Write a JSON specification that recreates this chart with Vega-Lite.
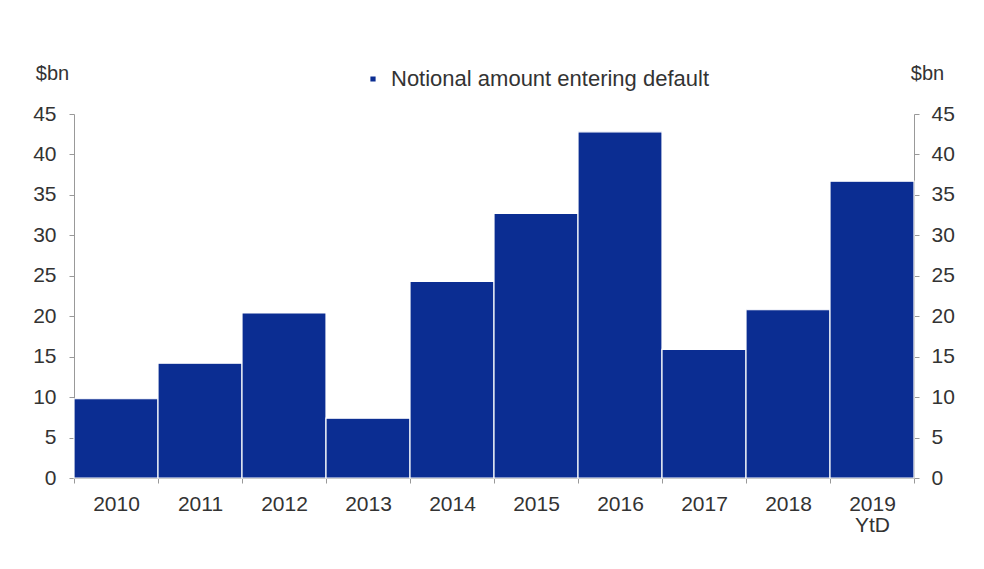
{
  "$schema": "https://vega.github.io/schema/vega-lite/v6.json",
  "width": 840,
  "height": 364,
  "autosize": {"type": "none"},
  "padding": {"left": 74, "top": 114, "right": 70, "bottom": 91},
  "background": "white",
  "config": {
    "view": {"stroke": null},
    "font": "Liberation Sans",
    "axis": {"labelFont": "Liberation Sans", "titleFont": "Liberation Sans", "labelColor": "#333333", "titleColor": "#333333", "labelFontSize": 21, "titleFontSize": 20, "titleFontWeight": "normal", "domainColor": "#999999", "tickColor": "#999999", "grid": false}
  },
  "data": {
    "values": [
      {"year": "2010", "series": "Notional amount entering default", "value": 9.8},
      {"year": "2011", "series": "Notional amount entering default", "value": 14.2},
      {"year": "2012", "series": "Notional amount entering default", "value": 20.4},
      {"year": "2013", "series": "Notional amount entering default", "value": 7.4},
      {"year": "2014", "series": "Notional amount entering default", "value": 24.3},
      {"year": "2015", "series": "Notional amount entering default", "value": 32.7},
      {"year": "2016", "series": "Notional amount entering default", "value": 42.8},
      {"year": "2017", "series": "Notional amount entering default", "value": 15.9},
      {"year": "2018", "series": "Notional amount entering default", "value": 20.8},
      {"year": "2019 YtD", "series": "Notional amount entering default", "value": 36.7}
    ]
  },
  "layer": [
    {
      "mark": {"type": "bar", "stroke": "white", "strokeWidth": 1.2},
      "encoding": {
        "x": {
          "field": "year", "type": "ordinal", "sort": null,
          "scale": {"paddingInner": 0, "paddingOuter": 0},
          "axis": {"title": null, "labelAngle": 0, "tickBand": "extent", "tickSize": 5, "labelPadding": 10,
            "labelExpr": "datum.label == '2019 YtD' ? ['2019', 'YtD'] : datum.label", "labelLineHeight": 21}
        },
        "y": {
          "field": "value", "type": "quantitative",
          "scale": {"domain": [0, 45], "nice": false},
          "axis": {"values": [0,5,10,15,20,25,30,35,40,45], "title": "$bn", "titleAngle": 0, "titleX": -22, "titleY": -41, "titleAlign": "center", "titleBaseline": "middle", "tickSize": 5, "labelPadding": 13}
        },
        "color": {
          "field": "series", "type": "nominal",
          "scale": {"range": ["#0b2d92"]},
          "legend": {"title": null, "orient": "none", "legendX": 288, "legendY": -46, "symbolType": "square", "symbolSize": 45, "labelFontSize": 22, "labelFont": "Liberation Sans", "labelColor": "#333333", "labelOffset": 7, "labelLimit": 0}
        }
      }
    },
    {
      "mark": {"type": "bar", "opacity": 0},
      "encoding": {
        "x": {"field": "year", "type": "ordinal", "sort": null},
        "y": {
          "field": "value", "type": "quantitative",
          "axis": {"orient": "right", "values": [0,5,10,15,20,25,30,35,40,45], "title": "$bn", "titleAngle": 0, "titleX": 13, "titleY": -41, "titleAlign": "center", "titleBaseline": "middle", "tickSize": 5, "labelPadding": 12}
        }
      }
    }
  ],
  "resolve": {"scale": {"y": "shared"}, "axis": {"y": "independent"}}
}
